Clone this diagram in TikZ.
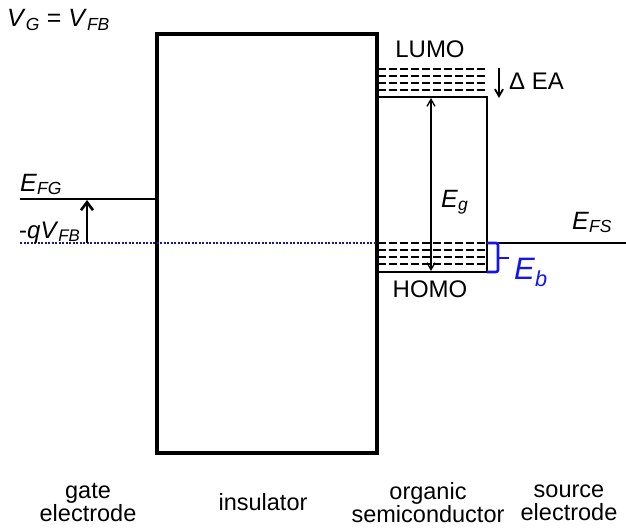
\documentclass[tikz,border=0pt]{standalone}
\usepackage{fontspec}
\setmainfont{Liberation Sans}
\usetikzlibrary{arrows.meta}
\newcommand\Sbi[1]{\textsubscript{\itshape #1}}
\definecolor{navyline}{RGB}{25,25,130}
\definecolor{ebblue}{RGB}{20,20,240}
\begin{document}
\begin{tikzpicture}[x=1pt,y=-1pt,
  lbl/.style={inner sep=0pt, font=\fontsize{23.5}{23}\selectfont},
  boxline/.style={line width=2.8pt},
  levelline/.style={line width=2.5pt},
  dashlevel/.style={line width=2.5pt, dash pattern=on 7.5pt off 3.5pt},
  thickarrow/.style={line width=2.6pt, -{Straight Barb[length=8pt,width=12pt]}}]
\useasboundingbox (0,0) rectangle (626,530);

% insulator
\draw[line width=3.2pt] (157,34) rectangle (377,453);

% semiconductor box
\coordinate (lumoL) at (377,97);
\coordinate (lumoR) at (487,97);
\coordinate (homoL) at (377,272);
\coordinate (homoR) at (487,272);
\draw[boxline] (lumoL) -- (lumoR) -- (homoR) -- (homoL);

% LUMO tail states
\foreach \yy in {69,76,83,90} {\draw[dashlevel] (378,\yy) -- (487,\yy);}
% HOMO tail states
\foreach \yy in {243,250,257,264} {\draw[dashlevel] (378,\yy) -- (487,\yy);}

% gate Fermi level
\coordinate (efgL) at (20,199);
\coordinate (efgR) at (156,199);
\draw[levelline] (efgL) -- (efgR);

% dotted reference level
\coordinate (dotL) at (20,243);
\coordinate (dotR) at (376,243);
\draw[navyline, line width=2.6pt, dash pattern=on 2pt off 1.5pt] (dotL) -- (dotR);

% source Fermi level
\coordinate (efsL) at (487,243);
\coordinate (efsR) at (626,243);
\draw[levelline] (efsL) -- (efsR);

% -qV_FB arrow
\coordinate (qa) at (87,243);
\coordinate (qb) at (87,200);
\draw[thickarrow] (qa) -- (qb);

% Eg arrow
\coordinate (ega) at (431,98);
\coordinate (egb) at (431,271);
\draw[line width=1.3pt, {Straight Barb[length=7pt,width=8pt]}-{Straight Barb[length=7pt,width=8pt]}] (ega) -- (egb);

% Delta EA arrow
\coordinate (eaa) at (499,68);
\coordinate (eab) at (499,98);
\draw[line width=1.8pt, -{Straight Barb[length=7pt,width=8pt]}] (eaa) -- (eab);

% Eb bracket
\coordinate (bt) at (487,243);
\coordinate (bb) at (487,272);
\draw[ebblue, line width=2.6pt, rounded corners=2pt] (bt) -- (498,243) -- (498,272) -- (bb);
\draw[ebblue, line width=2.6pt] (498,258) -- (509,258);

% labels
\node[lbl, anchor=base west, font=\fontsize{25}{25}\selectfont] (vg) at (7,27) {\textit{V}\Sbi{G} = \textit{V}\Sbi{FB}};
\node[lbl, anchor=base west, font=\fontsize{25}{25}\selectfont] (efg) at (20,191) {\textit{E}\Sbi{FG}};
\node[lbl, anchor=base west, font=\fontsize{24}{24}\selectfont] (qv) at (19,238) {-\textit{qV}\Sbi{FB}};
\node[lbl, anchor=base west, font=\fontsize{25}{25}\selectfont] (efs) at (572,229) {\textit{E}\Sbi{FS}};
\node[lbl, anchor=base west, font=\fontsize{25}{25}\selectfont] (eg) at (441,207) {\textit{E}\Sbi{g}};
\node[lbl, anchor=base west, text=ebblue, font=\fontsize{31}{31}\selectfont] (eb) at (514,279) {\textit{E}\Sbi{b}};
\node[lbl, anchor=base, font=\fontsize{24}{24}\selectfont] (lumo) at (430,57) {LUMO};
\node[lbl, anchor=base, font=\fontsize{24}{24}\selectfont] (homo) at (430,297) {HOMO};
\node[lbl, anchor=base west, font=\fontsize{24}{24}\selectfont] (dea) at (509,89) {Δ EA};

\node[lbl, align=center] (gate) at (88,503) {gate\\electrode};
\node[lbl, align=center] (ins) at (263,502) {insulator};
\node[lbl, align=center] (org) at (428,503) {organic\\semiconductor};
\node[lbl, align=center] (src) at (569,503) {source\\electrode};
\end{tikzpicture}
\end{document}
